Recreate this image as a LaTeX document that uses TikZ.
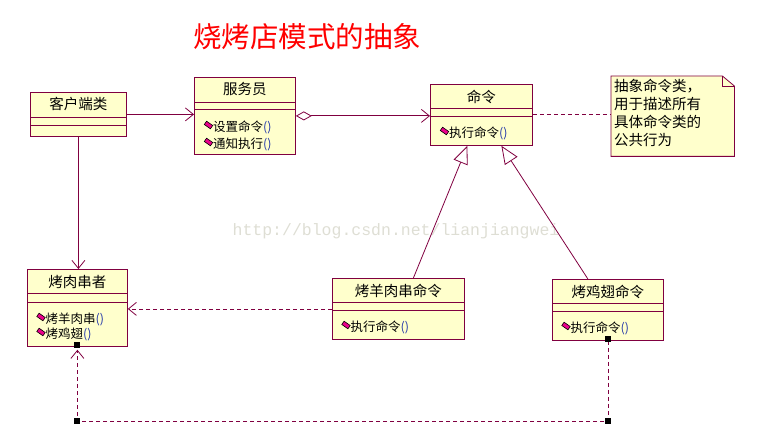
\documentclass[tikz,border=0pt]{standalone}
\usepackage{fontspec}
\setmainfont{Noto Sans CJK SC}
\newfontfamily\wmfont{Liberation Mono}
\usetikzlibrary{positioning,arrows.meta,calc}
\definecolor{umlline}{RGB}{128,0,64}
\definecolor{umlfill}{RGB}{255,255,204}
\definecolor{headred}{RGB}{255,0,0}
\definecolor{markgray}{RGB}{222,222,212}
\definecolor{parenblue}{RGB}{40,60,170}
\tikzset{
  uml box/.style={
    draw=umlline,
    fill=umlfill,
    line width=0.8pt,
    anchor=north west,
    inner sep=0pt
  },
  box title/.style={
    font=\fontsize{14.5}{16}\selectfont,
    inner sep=0pt
  },
  op text/.style={
    font=\fontsize{12.5}{14}\selectfont,
    anchor=west,
    inner sep=0pt
  },
  op icon/.style={
    draw=black,
    fill=magenta,
    line width=0.6pt,
    minimum width=7.5pt,
    minimum height=4pt,
    inner sep=0pt,
    rotate=-35
  },
  divider/.style={
    draw=umlline,
    line width=0.8pt
  },
  assoc/.style={
    draw=umlline,
    line width=0.8pt,
    -{Straight Barb[length=8pt,width=13pt]}
  },
  aggr/.style={
    draw=umlline,
    line width=0.8pt,
    {Diamond[open,length=16pt,width=9pt]}-{Straight Barb[length=8pt,width=13pt]}
  },
  inherit/.style={
    draw=umlline,
    line width=0.8pt,
    -{Triangle[open,length=18pt,width=15pt,fill=white]}
  },
  dep/.style={
    assoc,
    dash pattern=on 4pt off 3pt
  },
  bend mark/.style={
    fill=black,
    minimum size=6pt,
    inner sep=0pt
  }
}

\begin{document}
\begin{tikzpicture}[x=1pt,y=-1pt]
  \useasboundingbox (0,0) rectangle (774,441);

  % heading and watermark
  \node[font=\fontsize{28.5}{30}\selectfont, text=headred] (heading) at (307,37) {烧烤店模式的抽象};
  \node[font=\wmfont\fontsize{16.5}{18}\selectfont, text=markgray] (watermark) at (396,231) {http://blog.csdn.net/lianjiangwei};

  % 客户端类
  \node[uml box, minimum width=96pt, minimum height=44pt] (client) at (30,92) {};
  \node[box title] (clientname) at ($(client.north)+(0,12)$) {客户端类};
  \draw[divider] ($(client.north west)+(0,25)$) -- ($(client.north east)+(0,25)$);
  \draw[divider] ($(client.north west)+(0,33)$) -- ($(client.north east)+(0,33)$);

  % 服务员
  \node[uml box, minimum width=101pt, minimum height=77pt] (waiter) at (194,77) {};
  \node[box title] (waitername) at ($(waiter.north)+(0,12)$) {服务员};
  \draw[divider] ($(waiter.north west)+(0,25)$) -- ($(waiter.north east)+(0,25)$);
  \draw[divider] ($(waiter.north west)+(0,32)$) -- ($(waiter.north east)+(0,32)$);
  \node[op icon] (waiteropai) at ($(waiter.north west)+(14.5,48)$) {};
  \node[op text] (waiteropa) at ($(waiter.north west)+(19,50)$) {设置命令\textcolor{parenblue}{()}};
  \node[op icon] (waiteropbi) at ($(waiter.north west)+(14.5,65)$) {};
  \node[op text] (waiteropb) at ($(waiter.north west)+(19,67)$) {通知执行\textcolor{parenblue}{()}};

  % 命令
  \node[uml box, minimum width=102pt, minimum height=61pt] (cmd) at (430,84) {};
  \node[box title] (cmdname) at ($(cmd.north)+(0,13)$) {命令};
  \draw[divider] ($(cmd.north west)+(0,24)$) -- ($(cmd.north east)+(0,24)$);
  \draw[divider] ($(cmd.north west)+(0,32)$) -- ($(cmd.north east)+(0,32)$);
  \node[op icon] (cmdopi) at ($(cmd.north west)+(14.5,47)$) {};
  \node[op text] (cmdop) at ($(cmd.north west)+(19,49)$) {执行命令\textcolor{parenblue}{()}};

  % note
  \node[minimum width=123pt, minimum height=80pt, anchor=north west, inner sep=0pt] (note) at (611,76) {};
  \draw[uml box] (note.north west) -- ($(note.north east)+(-12,0)$) -- ($(note.north east)+(0,10)$)
    -- (note.south east) -- (note.south west) -- cycle;
  \draw[divider] ($(note.north east)+(-12,0)$) -- ($(note.north east)+(-12,10)$) -- ($(note.north east)+(0,10)$);
  \node[anchor=north west, align=left, inner sep=0pt, font=\fontsize{14.5}{18}\selectfont] (notetext)
    at ($(note.north west)+(3,3)$) {抽象命令类，\\用于描述所有\\具体命令类的\\公共行为};

  % 烤肉串者
  \node[uml box, minimum width=100pt, minimum height=77pt] (roaster) at (27,269) {};
  \node[box title] (roastername) at ($(roaster.north)+(0,13)$) {烤肉串者};
  \draw[divider] ($(roaster.north west)+(0,24)$) -- ($(roaster.north east)+(0,24)$);
  \draw[divider] ($(roaster.north west)+(0,33)$) -- ($(roaster.north east)+(0,33)$);
  \node[op icon] (roasteropai) at ($(roaster.north west)+(14,48)$) {};
  \node[op text] (roasteropa) at ($(roaster.north west)+(18.5,50)$) {烤羊肉串\textcolor{parenblue}{()}};
  \node[op icon] (roasteropbi) at ($(roaster.north west)+(14,63)$) {};
  \node[op text] (roasteropb) at ($(roaster.north west)+(18.5,65)$) {烤鸡翅\textcolor{parenblue}{()}};

  % 烤羊肉串命令
  \node[uml box, minimum width=132pt, minimum height=61pt] (mutton) at (332,278) {};
  \node[box title] (muttonname) at ($(mutton.north)+(0,13)$) {烤羊肉串命令};
  \draw[divider] ($(mutton.north west)+(0,24)$) -- ($(mutton.north east)+(0,24)$);
  \draw[divider] ($(mutton.north west)+(0,32)$) -- ($(mutton.north east)+(0,32)$);
  \node[op icon] (muttonopi) at ($(mutton.north west)+(14,47)$) {};
  \node[op text] (muttonop) at ($(mutton.north west)+(18.5,49)$) {执行命令\textcolor{parenblue}{()}};

  % 烤鸡翅命令
  \node[uml box, minimum width=111pt, minimum height=61pt] (wing) at (552,279) {};
  \node[box title] (wingname) at ($(wing.north)+(0,13)$) {烤鸡翅命令};
  \draw[divider] ($(wing.north west)+(0,24)$) -- ($(wing.north east)+(0,24)$);
  \draw[divider] ($(wing.north west)+(0,32)$) -- ($(wing.north east)+(0,32)$);
  \node[op icon] (wingopi) at ($(wing.north west)+(14,47)$) {};
  \node[op text] (wingop) at ($(wing.north west)+(18.5,49)$) {执行命令\textcolor{parenblue}{()}};

  % connectors
  \draw[assoc] (client.east) -- (client.east -| waiter.west);
  \draw[aggr] (waiter.east) -- (waiter.east -| cmd.west);
  \draw[divider, dash pattern=on 4pt off 3pt] (cmd.east) -- (cmd.east -| note.west);
  \draw[assoc] (client.south) -- (client.south |- roaster.north);
  \draw[inherit] ($(mutton.north)+(15,0)$) -- ($(cmd.south)+(-14,0)$);
  \draw[inherit] ($(wing.north)+(-20,0)$) -- ($(cmd.south)+(20,0)$);
  \draw[dep] (mutton.west) -- (mutton.west -| roaster.east);

  \coordinate (wingdrop) at (wing.south |- 0,421);
  \coordinate (roasterdrop) at (roaster.south |- 0,421);
  \draw[dep] (wing.south) -- (wingdrop) -- (roasterdrop) -- ($(roaster.south)+(0,3)$);
  \node[bend mark] (marka) at ($(wing.south)+(0,-2)$) {};
  \node[bend mark] (markb) at (wingdrop) {};
  \node[bend mark] (markc) at (roasterdrop) {};
  \node[bend mark] (markd) at ($(roaster.south)+(0,-2)$) {};

\end{tikzpicture}
\end{document}
